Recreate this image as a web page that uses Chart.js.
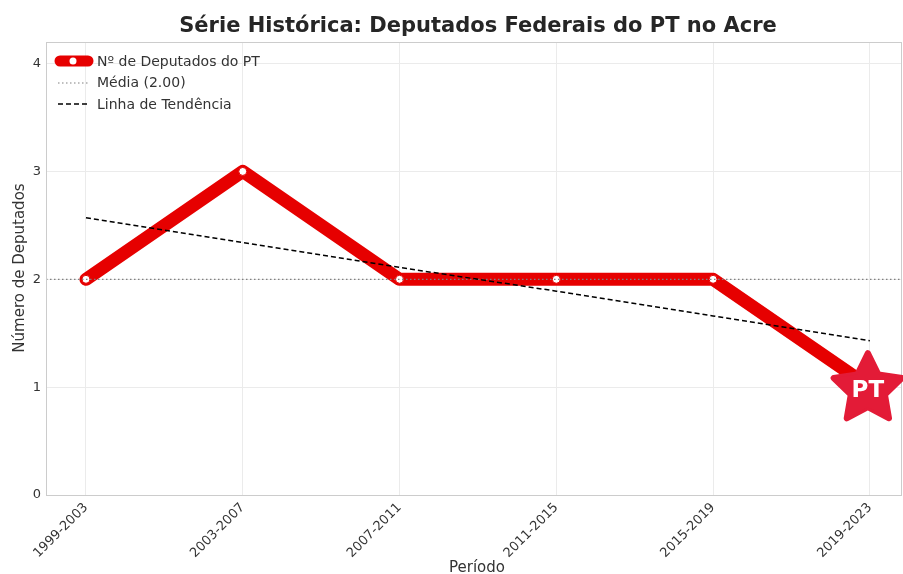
<!DOCTYPE html>
<html>
<head>
<meta charset="utf-8">
<script src="https://cdn.jsdelivr.net/npm/chart.js@4.4.0/dist/chart.umd.min.js"></script>
<style>
  body { margin: 0; background: #fff; }
  #wrap { width: 903px; height: 574px; }
</style>
</head>
<body>
<div id="wrap"><canvas id="ptChart" width="903" height="574"></canvas></div>
<script>
// dados
const periodos = ['1999-2003', '2003-2007', '2007-2011', '2011-2015', '2015-2019', '2019-2023'];
const deputados = [2, 3, 2, 2, 2, 1];
const media = 2.00;
const tendencia = [2.57, 2.34, 2.11, 1.89, 1.66, 1.43];
const yTicks = [0, 1, 2, 3, 4];
const xMin = -0.255, xMax = 5.205;

const FONT = "'DejaVu Sans', sans-serif";
const RED = '#e60000';

function pts(arr) {
    return arr.map(function(v, i) { return { x: i, y: v }; });
}

function noPadding() {
    return { left: 0, right: 0, top: 0, bottom: 0 };
}

// titulo, rotulos dos eixos, moldura, legenda e estrela do PT
const extras = {
    id: 'extras',
    afterDraw: function(chart) {
        const ctx = chart.ctx;
        const a = chart.chartArea;
        ctx.save();

        // moldura
        ctx.strokeStyle = '#cccccc';
        ctx.lineWidth = 1;
        ctx.strokeRect(a.left + 0.5, a.top + 0.5, a.right - a.left - 1, a.bottom - a.top);

        // titulo
        ctx.fillStyle = '#262626';
        ctx.font = 'bold 21px ' + FONT;
        ctx.textAlign = 'center';
        ctx.textBaseline = 'middle';
        ctx.fillText('Série Histórica: Deputados Federais do PT no Acre', 478, 27);

        // eixos
        ctx.font = '15px ' + FONT;
        ctx.fillStyle = '#333';
        ctx.fillText('Período', 477, 568);
        ctx.save();
        ctx.translate(20, 268);
        ctx.rotate(-Math.PI / 2);
        ctx.fillText('Número de Deputados', 0, 0);
        ctx.restore();

        // legenda
        ctx.font = '14px ' + FONT;
        ctx.textAlign = 'left';
        ctx.fillStyle = '#333';
        ctx.lineCap = 'round';
        ctx.strokeStyle = RED;
        ctx.lineWidth = 11;
        ctx.beginPath(); ctx.moveTo(60, 61); ctx.lineTo(88, 61); ctx.stroke();
        ctx.lineCap = 'butt';
        ctx.fillStyle = '#fff';
        ctx.beginPath(); ctx.arc(73, 61, 3.5, 0, Math.PI * 2); ctx.fill();
        ctx.fillStyle = '#333';
        ctx.fillText('Nº de Deputados do PT', 97, 62);

        ctx.strokeStyle = '#808080';
        ctx.lineWidth = 1.2;
        ctx.setLineDash([1.5, 2.5]);
        ctx.beginPath(); ctx.moveTo(58, 83); ctx.lineTo(88, 83); ctx.stroke();
        ctx.fillText('Média (2.00)', 97, 83);

        ctx.strokeStyle = '#000';
        ctx.lineWidth = 1.5;
        ctx.setLineDash([5, 3]);
        ctx.beginPath(); ctx.moveTo(58, 104); ctx.lineTo(88, 104); ctx.stroke();
        ctx.setLineDash([]);
        ctx.fillText('Linha de Tendência', 97, 105);

        // estrela no ultimo ponto
        const last = deputados.length - 1;
        const cx = chart.scales.x.getPixelForValue(last) - 2;
        const cy = chart.scales.y.getPixelForValue(deputados[last]) + 2;
        const R = 36, r = 18;
        ctx.beginPath();
        for (let k = 0; k < 10; k++) {
            const rad = k % 2 === 0 ? R : r;
            const ang = -Math.PI / 2 + k * Math.PI / 5;
            const px = cx + rad * Math.cos(ang), py = cy + rad * Math.sin(ang);
            if (k === 0) ctx.moveTo(px, py); else ctx.lineTo(px, py);
        }
        ctx.closePath();
        ctx.fillStyle = '#e31b37';
        ctx.strokeStyle = '#e31b37';
        ctx.lineJoin = 'round';
        ctx.lineWidth = 6;
        ctx.stroke();
        ctx.fill();
        ctx.fillStyle = '#fff';
        ctx.font = 'bold 23px ' + FONT;
        ctx.textAlign = 'center';
        ctx.textBaseline = 'middle';
        ctx.fillText('PT', cx, cy + 2);

        ctx.restore();
    }
};

const ctx = document.getElementById('ptChart').getContext('2d');
const myChart = new Chart(ctx, {
    type: 'line',
    data: {
        datasets: [{
            label: 'Nº de Deputados do PT',
            data: pts(deputados),
            borderColor: RED,
            borderWidth: 13,
            borderJoinStyle: 'round',
            borderCapStyle: 'round',
            pointRadius: 4,
            pointBackgroundColor: '#fff',
            pointBorderColor: RED,
            pointBorderWidth: 1,
            order: 3
        }, {
            label: 'Média (2.00)',
            data: [{ x: xMin, y: media }, { x: xMax, y: media }],
            borderColor: '#808080',
            borderWidth: 1.2,
            borderDash: [1.5, 2.5],
            pointRadius: 0,
            order: 2
        }, {
            label: 'Linha de Tendência',
            data: pts(tendencia),
            borderColor: '#000',
            borderWidth: 1.5,
            borderDash: [5, 3],
            pointRadius: 0,
            order: 1
        }]
    },
    options: {
        responsive: false,
        animation: false,
        layout: { autoPadding: false, padding: { top: 42, right: 1, left: 0, bottom: 0 } },
        plugins: {
            legend: { display: false },
            title: { display: false },
            tooltip: { enabled: false }
        },
        scales: {
            x: {
                type: 'linear',
                min: xMin,
                max: xMax,
                afterBuildTicks: function(s) {
                    s.ticks = periodos.map(function(p, i) { return { value: i }; });
                },
                afterFit: function(s) {
                    s.height = 79;
                    s.getPadding = noPadding;
                },
                grid: { color: '#ebebeb', drawTicks: false },
                border: { display: false },
                ticks: {
                    autoSkip: false,
                    minRotation: 45,
                    maxRotation: 45,
                    padding: 5,
                    color: '#333',
                    font: { family: FONT, size: 13 },
                    callback: function(v) { return periodos[v]; }
                }
            },
            y: {
                min: 0,
                max: 4.2,
                afterBuildTicks: function(s) {
                    s.ticks = yTicks.map(function(v) { return { value: v }; });
                },
                afterFit: function(s) {
                    s.width = 46;
                    s.getPadding = noPadding;
                },
                grid: { color: '#ebebeb', drawTicks: false },
                border: { display: false },
                ticks: {
                    padding: 5,
                    color: '#333',
                    font: { family: FONT, size: 13 }
                }
            }
        }
    },
    plugins: [extras]
});
</script>
</body>
</html>
